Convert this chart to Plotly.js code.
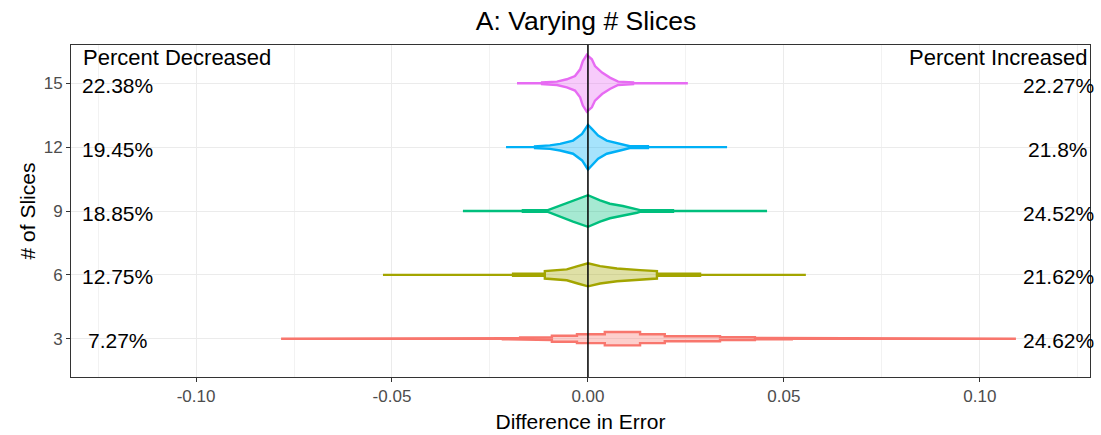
<!DOCTYPE html>
<html>
<head>
<meta charset="utf-8">
<script src="https://cdn.plot.ly/plotly-3.0.1.min.js"></script>
<style>
  html, body { margin: 0; padding: 0; background: #ffffff; }
  #chart { width: 1101px; height: 435px; }
</style>
</head>
<body>
<div id="chart"></div>
<script>
// Number of slices (one violin per level)
const slices = ['3', '6', '9', '12', '15'];

// Violin outlines: difference in error (x) and half-width of the density (in category units)
const diff_3 = [-0.0783, -0.0217, -0.0217, -0.0173, -0.0173, -0.0092, -0.0092, -0.0028, -0.0028, 0.0043, 0.0043, 0.0133, 0.0133, 0.0196, 0.0196, 0.0337, 0.0337, 0.0426, 0.0426, 0.0520, 0.0520, 0.1092];
const dens_3 = [0, 0, 0.010, 0.010, 0.020, 0.020, 0.047, 0.047, 0.070, 0.070, 0.104, 0.104, 0.070, 0.070, 0.039, 0.039, 0.022, 0.022, 0.010, 0.010, 0, 0];

const diff_6 = [-0.0523, -0.0191, -0.0191, -0.0110, -0.0110, -0.0054, -0.0026, 0.0000, 0.0031, 0.0074, 0.0133, 0.0176, 0.0176, 0.0286, 0.0286, 0.0556];
const dens_6 = [0, 0, 0.016, 0.016, 0.058, 0.085, 0.136, 0.180, 0.136, 0.100, 0.074, 0.058, 0.016, 0.016, 0, 0];

const diff_9 = [-0.0319, -0.0166, -0.0166, -0.0102, -0.0097, -0.0071, -0.0038, 0.0000, 0.0031, 0.0056, 0.0089, 0.0125, 0.0133, 0.0217, 0.0217, 0.0457];
const dens_9 = [0, 0, 0.014, 0.014, 0.027, 0.089, 0.168, 0.248, 0.168, 0.114, 0.078, 0.027, 0.014, 0.014, 0, 0];

const diff_12 = [-0.0209, -0.0135, -0.0135, -0.0097, -0.0071, -0.0038, -0.0015, 0.0000, 0.0010, 0.0026, 0.0048, 0.0082, 0.0107, 0.0153, 0.0153, 0.0355];
const dens_12 = [0, 0, 0.014, 0.027, 0.052, 0.103, 0.208, 0.350, 0.287, 0.182, 0.103, 0.052, 0.014, 0.014, 0, 0];

const diff_15 = [-0.0181, -0.0117, -0.0117, -0.0079, -0.0054, -0.0033, -0.0020, -0.0013, -0.0003, 0.0010, 0.0018, 0.0036, 0.0056, 0.0077, 0.0115, 0.0115, 0.0255];
const dens_15 = [0, 0, 0.014, 0.027, 0.063, 0.114, 0.219, 0.349, 0.445, 0.376, 0.271, 0.168, 0.089, 0.027, 0.014, 0, 0];

// Share of runs whose error went down / up, per number of slices
const pctDecreased = ['7.27%', '12.75%', '18.85%', '19.45%', '22.38%'];
const pctIncreased = ['24.62%', '21.62%', '24.52%', '21.8%', '22.27%'];

// Axis tick values and labels
const xTickVals = [-0.10, -0.05, 0.00, 0.05, 0.10];
const xTickText = ['-0.10', '-0.05', '0.00', '0.05', '0.10'];
const xMinorVals = [-0.125, -0.075, -0.025, 0.025, 0.075, 0.125];

const profiles = [
  [diff_3, dens_3], [diff_6, dens_6], [diff_9, dens_9], [diff_12, dens_12], [diff_15, dens_15]
];

const palette = ['#F8766D', '#A3A500', '#00BF7D', '#00B0F6', '#E76BF3'];
const fills = ['rgba(248,118,109,0.35)', 'rgba(163,165,0,0.35)', 'rgba(0,191,125,0.35)',
               'rgba(0,176,246,0.35)', 'rgba(231,107,243,0.35)'];

const FONT = 'Liberation Sans, Arial, Helvetica, sans-serif';

// Mirror each density profile around its category position to get a closed violin
const traces = profiles.map(([xs, ws], i) => {
  const pos = i + 1;
  const upperY = ws.map(w => pos + w);
  const lowerY = ws.slice().reverse().map(w => pos - w);
  return {
    type: 'scatter',
    mode: 'lines',
    x: xs.concat(xs.slice().reverse()),
    y: upperY.concat(lowerY),
    fill: 'toself',
    fillcolor: fills[i],
    line: { color: palette[i], width: 2.4 },
    hoverinfo: 'skip',
    showlegend: false,
    name: slices[i]
  };
});

const annotations = [];
slices.forEach((s, i) => {
  annotations.push({
    x: -0.12, y: i + 1, xref: 'x', yref: 'y', text: pctDecreased[i],
    showarrow: false, xanchor: 'center', yanchor: 'middle', yshift: -2,
    font: { family: FONT, size: 21, color: '#000000' }
  });
  annotations.push({
    x: 0.12, y: i + 1, xref: 'x', yref: 'y', text: pctIncreased[i],
    showarrow: false, xanchor: 'center', yanchor: 'middle', yshift: -2,
    font: { family: FONT, size: 21, color: '#000000' }
  });
});
annotations.push({
  x: -0.1048, y: 5.41, xref: 'x', yref: 'y', text: 'Percent Decreased',
  showarrow: false, xanchor: 'center', yanchor: 'middle',
  font: { family: FONT, size: 22, color: '#000000' }
});
annotations.push({
  x: 0.1048, y: 5.41, xref: 'x', yref: 'y', text: 'Percent Increased',
  showarrow: false, xanchor: 'center', yanchor: 'middle',
  font: { family: FONT, size: 22, color: '#000000' }
});

const layout = {
  width: 1101,
  height: 435,
  margin: { l: 71, r: 11, t: 45, b: 58 },
  paper_bgcolor: '#ffffff',
  plot_bgcolor: '#ffffff',
  font: { family: FONT, color: '#000000' },
  title: {
    text: 'A: Varying # Slices',
    x: 0.5054, xref: 'paper', xanchor: 'center',
    y: 0.952, yref: 'container', yanchor: 'middle',
    font: { family: FONT, size: 26.5, color: '#000000' }
  },
  xaxis: {
    range: [-0.1319, 0.1281],
    tickmode: 'array',
    tickvals: xTickVals,
    ticktext: xTickText,
    ticks: 'outside', ticklen: 4, tickwidth: 1, tickcolor: '#333333',
    tickfont: { family: FONT, size: 17, color: '#4D4D4D' },
    showgrid: true, gridcolor: '#EBEBEB', gridwidth: 1,
    minor: { tickmode: 'array', tickvals: xMinorVals, showgrid: true, gridcolor: '#F2F2F2', gridwidth: 1 },
    showline: true, linecolor: '#333333', linewidth: 1, mirror: true,
    zeroline: false,
    title: { text: 'Difference in Error', standoff: 8, font: { family: FONT, size: 21, color: '#000000' } }
  },
  yaxis: {
    range: [0.4, 5.6],
    tickmode: 'array',
    tickvals: [1, 2, 3, 4, 5],
    ticktext: slices,
    ticks: 'outside', ticklen: 4, tickwidth: 1, tickcolor: '#333333',
    tickfont: { family: FONT, size: 17, color: '#4D4D4D' },
    showgrid: true, gridcolor: '#EBEBEB', gridwidth: 1,
    showline: true, linecolor: '#333333', linewidth: 1, mirror: true,
    zeroline: false,
    title: { text: '# of Slices', standoff: 2, font: { family: FONT, size: 21, color: '#000000' } }
  },
  shapes: [{
    type: 'line', xref: 'x', yref: 'paper', x0: 0, x1: 0, y0: 0, y1: 1,
    line: { color: '#000000', width: 1.5 }, layer: 'above'
  }],
  annotations: annotations
};

Plotly.newPlot('chart', traces, layout, { displayModeBar: false, staticPlot: true });
</script>
</body>
</html>
